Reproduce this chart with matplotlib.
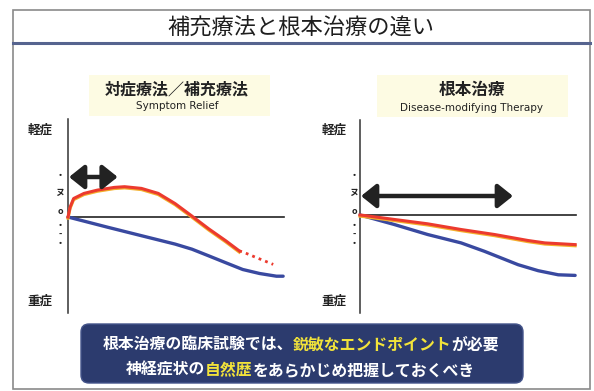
import matplotlib
matplotlib.use("Agg")
import matplotlib.pyplot as plt
from matplotlib.patches import Rectangle, FancyBboxPatch, FancyArrowPatch

plt.rcParams['font.family'] = ['Noto Sans CJK JP', 'DejaVu Sans']

# ---- data ----
main_title = "補充療法と根本治療の違い"
left_title = "対症療法／補充療法"
left_sub = "Symptom Relief"
right_title = "根本治療"
right_sub = "Disease-modifying Therapy"
y_top_label = "軽症"
y_bot_label = "重症"
y_mid_chars = ["・", "ヌ", "o", "・", "-", "・"]

# left panel (symptom relief)
left_red_x = [0, 1.0, 2.6, 7.4, 13.6, 21.4, 26.2, 34.0, 41.8, 49.6, 57.4, 65.2, 73.0, 79.3]
left_red_y = [0, 1.0, 1.85, 2.36, 2.69, 2.96, 3.03, 2.86, 2.36, 1.34, 0.09, -1.19, -2.37, -3.39]
left_red_dot_x = [79.3, 80.9, 87.2, 95.0]
left_red_dot_y = [-3.39, -3.49, -4.06, -4.74]
left_blue_x = [0, 18.3, 34.0, 49.6, 57.4, 65.2, 73.0, 80.9, 88.7, 96.5, 99.6]
left_blue_y = [0, -1.02, -1.87, -2.71, -3.22, -3.89, -4.57, -5.25, -5.65, -5.92, -5.92]
left_arrow = (0, 23, 4.0)

# right panel (disease modifying)
right_red_x = [0, 1.7, 15.7, 31.3, 46.8, 62.3, 77.8, 85.6, 99.6]
right_red_y = [0, -0.04, -0.44, -0.88, -1.45, -1.95, -2.55, -2.79, -2.96]
right_blue_x = [0, 1.7, 15.7, 31.3, 46.8, 57.6, 65.4, 73.2, 82.5, 91.8, 99.6]
right_blue_y = [0, -0.1, -0.94, -1.95, -2.79, -3.63, -4.3, -4.97, -5.57, -5.98, -6.04]
right_arrow = (0, 70.8, 1.9)

bottom_line1 = [("根本治療の臨床試験では、", "white"), ("鋭敏なエンドポイント", "#f2e33a"), ("が必要", "white")]
bottom_line2 = [("神経症状の", "white"), ("自然歴", "#f2e33a"), ("をあらかじめ把握しておくべき", "white")]

W, H = 594, 391
fig = plt.figure(figsize=(W / 100, H / 100), dpi=100)
bg = fig.add_axes([0, 0, 1, 1])
bg.set_xlim(0, W)
bg.set_ylim(H, 0)
bg.axis("off")

# frame
bg.add_patch(Rectangle((13, 10), 577, 379, fill=False, ec="#8a8a8a", lw=1.2))
bg.plot([13, 590], [43, 43], color="#56648f", lw=2.2)
bg.text(301, 28, main_title, ha="center", va="center", fontsize=16, color="#1e1e1e")

# panel title boxes
bg.add_patch(Rectangle((89, 75), 181, 41, fc="#fdfbe3", ec="none"))
bg.text(177, 89, left_title, ha="center", va="center", fontsize=11.5, fontweight="bold", color="#222222")
bg.text(177, 106, left_sub, ha="center", va="center", fontsize=7.5, family="DejaVu Sans", color="#222222")
bg.add_patch(Rectangle((377, 75), 191, 42, fc="#fdfbe3", ec="none"))
bg.text(472, 90, right_title, ha="center", va="center", fontsize=12, fontweight="bold", color="#222222")
bg.text(472, 108, right_sub, ha="center", va="center", fontsize=7.5, family="DejaVu Sans", color="#222222")

# side labels
for xl in (40, 334):
    bg.text(xl, 130, y_top_label, ha="center", va="center", fontsize=9, fontweight="bold", color="#222222")
    bg.text(xl, 301, y_bot_label, ha="center", va="center", fontsize=9, fontweight="bold", color="#222222")
mid_ys = [176, 193, 212, 225.5, 234, 244]
for xc in (60, 354):
    for ch, yy in zip(y_mid_chars, mid_ys):
        bg.text(xc, yy, ch, ha="center", va="center", fontsize=6.5, fontweight="bold", color="#222222")

def panel(rect, ylim, red_x, red_y, blue_x, blue_y, arrow, dot_x=None, dot_y=None):
    x0, y0, x1, y1 = rect
    ax = fig.add_axes([x0 / W, 1 - y1 / H, (x1 - x0) / W, (y1 - y0) / H])
    ax.set_xlim(0, 100)
    ax.set_ylim(*ylim)
    for s in ("top", "right", "bottom"):
        ax.spines[s].set_visible(False)
    ax.spines["left"].set_color("#333333")
    ax.spines["left"].set_linewidth(1.1)
    ax.set_xticks([])
    ax.set_yticks([])
    ax.patch.set_alpha(0)
    ax.plot([0, 100], [0, 0], color="#222222", lw=1.2, clip_on=False, zorder=2)
    ax.plot(blue_x, blue_y, color="#3949a0", lw=2.4, clip_on=False, zorder=3,
            solid_capstyle="round", solid_joinstyle="round")
    ax.plot(red_x, [v - 0.12 for v in red_y], color="#f3b02c", lw=2.2, clip_on=False, zorder=4,
            solid_joinstyle="round")
    ax.plot(red_x, red_y, color="#ec3a2e", lw=2.2, clip_on=False, zorder=5, solid_joinstyle="round")
    if dot_x is not None:
        ax.plot(dot_x, dot_y, color="#ec3a2e", lw=2.0, ls=(0, (1, 1.5)), clip_on=False, zorder=5)
    a0, a1, ay = arrow
    arr = FancyArrowPatch((a0 + 0.5, ay), (a1, ay), arrowstyle="<|-|>,head_length=5,head_width=4",
                          mutation_scale=1.8, lw=3.2, color="#222222", clip_on=False, zorder=6,
                          shrinkA=0, shrinkB=0)
    ax.add_patch(arr)
    return ax

panel((68, 119, 284, 313), (-9.6, 9.8), left_red_x, left_red_y, left_blue_x, left_blue_y,
      left_arrow, left_red_dot_x, left_red_dot_y)
panel((360, 120, 576, 313), (-9.8, 9.5), right_red_x, right_red_y, right_blue_x, right_blue_y,
      right_arrow)

# bottom message box
bg.add_patch(FancyBboxPatch((81 + 8, 324 + 8), 442 - 16, 59 - 16,
                            boxstyle="round,pad=8", fc="#2c3b6e", ec="#44548a", lw=1))

def colored_line(parts, cx, cy, fs):
    em = fs * 100 / 72.0  # full-width glyph advance in pixels
    total = sum(len(s) for s, _ in parts) * em
    x = cx - total / 2
    for s, c in parts:
        bg.text(x, cy, s, ha="left", va="center", fontsize=fs, fontweight="bold", color=c)
        x += len(s) * em

colored_line(bottom_line1, 301, 345, 11.4)
colored_line(bottom_line2, 300, 370, 11.4)

fig.savefig("out.png", dpi=100)
